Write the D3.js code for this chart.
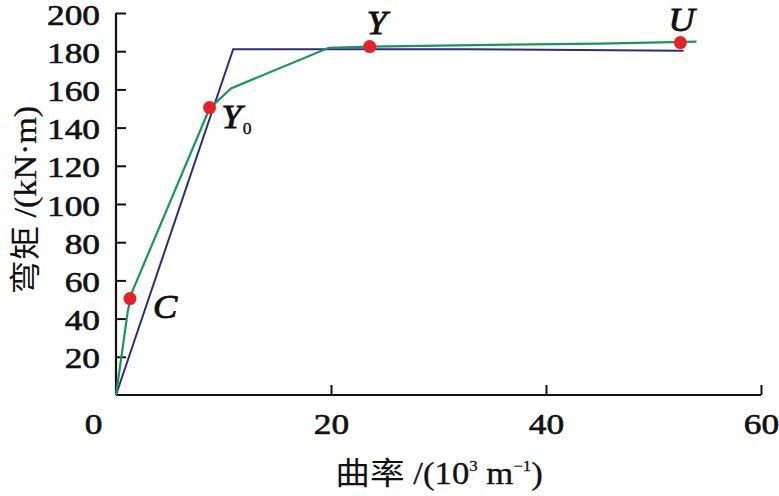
<!DOCTYPE html>
<html><head><meta charset="utf-8">
<script src="https://cdn.jsdelivr.net/npm/d3@7"></script>
<style>
body{margin:0;background:#fff;}
svg{display:block;}
text{font-family:"Liberation Serif","Times New Roman",serif;fill:#111;}
</style></head>
<body>
<svg id="c" width="779" height="496"></svg>
<script>
const xTicks=[0,20,40,60];
const yTicks=[20,40,60,80,100,120,140,160,180,200];
const blueX=[0,10.9,32.5,52.8];
const blueY=[0,181,181,180.3];
const greenX=[0,1.1,1.5,8.7,10.7,19.8,23.6,35,45,54];
const greenY=[0,44,54,150,160.5,181.8,182.4,183.3,184,185];
const ptName=["C","Y","Y","U"];
const ptSub=["","0","",""];
const ptX=[1.3,8.7,23.6,52.5];
const ptY=[50.5,150.5,182.4,184.5];

const svg=d3.select("#c");
const x=d3.scaleLinear().domain([0,60]).range([116,761]);
const y=d3.scaleLinear().domain([0,200]).range([395,13]);
const SX=1.22;

// axes
const gx=svg.append("g").attr("transform","translate(0,395)")
  .call(d3.axisBottom(x).tickValues(xTicks).tickSize(-10).tickPadding(0).tickFormat(d3.format("d")));
const gy=svg.append("g").attr("transform","translate(116,0)")
  .call(d3.axisLeft(y).tickValues(yTicks).tickSize(-10).tickPadding(0).tickFormat(d3.format("d")));
[gx,gy].forEach(g=>{
  g.attr("font-family",null);
  g.select(".domain").attr("stroke","#111").attr("stroke-width",2.2);
  g.selectAll(".tick line").attr("stroke","#111").attr("stroke-width",2);
  g.selectAll(".tick text").attr("font-size",29).attr("fill","#111")
    .attr("stroke","#111").attr("stroke-width",0.6);
});
gx.select(".domain").attr("d","M116,0H761");
gy.select(".domain").attr("d","M0,13V395");
gx.selectAll(".tick").filter(d=>d===0).select("line").remove();
gx.selectAll(".tick text").attr("y",0).attr("dy","0").attr("x",0)
  .attr("transform",d=>`translate(${d===0?-23:0},39) scale(${SX},1)`);
gy.selectAll(".tick text").attr("x",0).attr("dy","0")
  .attr("transform","translate(-16,11) scale("+SX+",1)");

// lines
const line=d3.line().x(d=>x(d[0])).y(d=>y(d[1]));
svg.append("path").datum(blueX.map((v,i)=>[v,blueY[i]]))
  .attr("d",line).attr("fill","none").attr("stroke","#2b2d7e").attr("stroke-width",2);
svg.append("path").datum(greenX.map((v,i)=>[v,greenY[i]]))
  .attr("d",line).attr("fill","none").attr("stroke","#16985a").attr("stroke-width",2.2);

// points
svg.selectAll("circle.p").data(ptX).join("circle").attr("class","p")
  .attr("cx",d=>x(d)).attr("cy",(d,i)=>y(ptY[i])).attr("r",6.5).attr("fill","#e8202a");

// point labels
const lblOff=[[23,19],[12,20],[-3,-13],[-12,-12]];
ptName.forEach((n,i)=>{
  const t=svg.append("text")
    .attr("transform",`translate(${x(ptX[i])+lblOff[i][0]},${y(ptY[i])+lblOff[i][1]}) scale(1.1,1)`)
    .attr("font-size",33).attr("font-style","italic")
    .attr("stroke","#111").attr("stroke-width",0.9);
  t.append("tspan").text(n);
  if(ptSub[i]) t.append("tspan").attr("font-size",16).attr("font-style","normal")
    .attr("stroke-width",0.4).attr("dx",1).attr("dy",6).text(ptSub[i]);
});

// axis titles
const xt=svg.append("text").attr("transform","translate(439,484) scale(1.12,1)")
  .attr("text-anchor","middle").attr("font-size",31).attr("stroke","#111").attr("stroke-width",0.3);
xt.append("tspan").attr("font-family","Noto Sans CJK SC, Liberation Serif").attr("stroke-width",0).text("曲率");
xt.append("tspan").text(" /(10");
xt.append("tspan").attr("font-size",15).attr("dy",-13).text("3");
xt.append("tspan").attr("dy",13).text(" m");
xt.append("tspan").attr("font-size",15).attr("dy",-13).text("−1");
xt.append("tspan").attr("dy",13).text(")");

const yt=svg.append("text").attr("transform","translate(36,200) rotate(-90) scale(1.1,1)")
  .attr("text-anchor","middle").attr("font-size",31).attr("stroke","#111").attr("stroke-width",0.3);
yt.append("tspan").attr("font-family","Noto Sans CJK SC, Liberation Serif").attr("stroke-width",0).text("弯矩");
yt.append("tspan").text(" /(kN·m)");
</script>
</body></html>
